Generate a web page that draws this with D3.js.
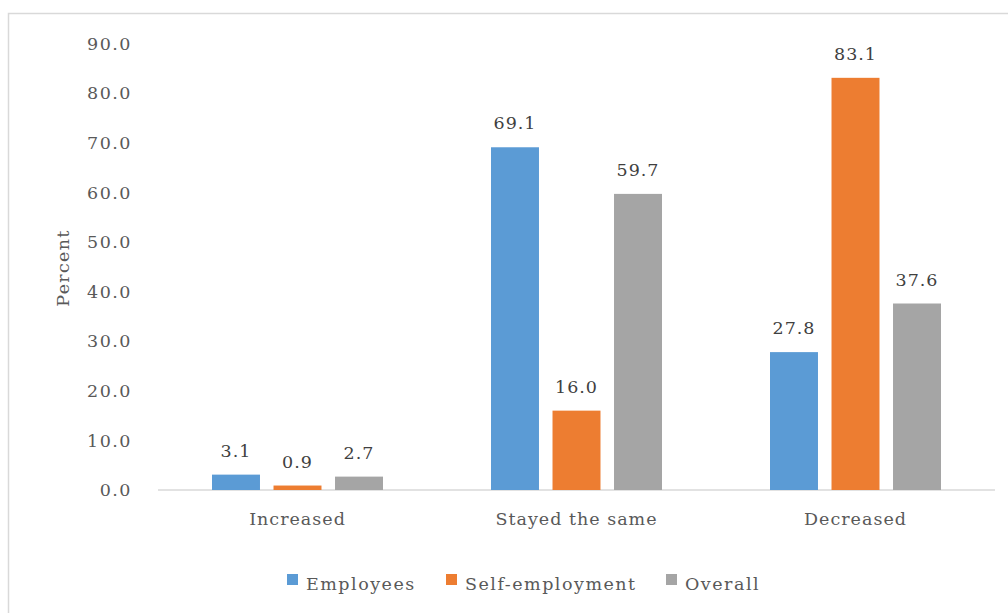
<!DOCTYPE html>
<html><head><meta charset="utf-8">
<script src="https://cdn.jsdelivr.net/npm/d3@7"></script>
<style>body{margin:0;background:#fff}svg{display:block}</style>
</head><body>
<svg id="c" width="1008" height="613"></svg>
<script>
const categories = ["Increased", "Stayed the same", "Decreased"];
const seriesNames = ["Employees", "Self-employment", "Overall"];
const employees = [3.1, 69.1, 27.8];
const selfEmployment = [0.9, 16.0, 83.1];
const overall = [2.7, 59.7, 37.6];
const yTicks = [0, 10, 20, 30, 40, 50, 60, 70, 80, 90];
const colors = ["#5b9bd5", "#ed7d31", "#a5a5a5"];
const series = [employees, selfEmployment, overall];

const svg = d3.select("#c");
const font = "'DejaVu Serif', serif";
const fs = 17.5, ls = "1px";
svg.append("rect").attr("x", 8.5).attr("y", 13.5).attr("width", 1010).attr("height", 620)
  .attr("fill", "#fff").attr("stroke", "#d9d9d9").attr("stroke-width", 1.5);

const x0 = d3.scaleBand().domain(categories).range([158, 995]);
const x1 = d3.scaleBand().domain(seriesNames).range([0, 171]).paddingInner(0.22);
const y = d3.scaleLinear().domain([0, 90]).range([490, 43.6]);

const yAxis = svg.append("g").attr("transform", "translate(158,0)")
  .call(d3.axisLeft(y).tickValues(yTicks).tickFormat(d3.format(".1f")).tickSize(0).tickPadding(26));
yAxis.select(".domain").remove();
yAxis.selectAll("text").attr("font-family", font).attr("font-size", fs).attr("letter-spacing", "1.5px").attr("fill", "#595959");

svg.append("line").attr("x1", 158).attr("x2", 995).attr("y1", y(0)).attr("y2", y(0))
  .attr("stroke", "#d9d9d9").attr("stroke-width", 1.5);

const offset = (x0.bandwidth() - 171) / 2;
series.forEach((vals, si) => {
  const g = svg.append("g");
  categories.forEach((c, ci) => {
    const bx = x0(c) + offset + x1(seriesNames[si]);
    g.append("rect").attr("x", bx).attr("width", x1.bandwidth())
      .attr("y", y(vals[ci])).attr("height", y(0) - y(vals[ci])).attr("fill", colors[si]);
    g.append("text").attr("x", bx + x1.bandwidth() / 2).attr("y", y(vals[ci]) - 18)
      .attr("text-anchor", "middle").attr("font-family", font).attr("font-size", fs)
      .attr("letter-spacing", ls).attr("fill", "#404040").text(vals[ci].toFixed(1));
  });
});

const xAxis = svg.append("g").attr("transform", `translate(0,${y(0)})`)
  .call(d3.axisBottom(x0).tickSize(0).tickPadding(23));
xAxis.select(".domain").remove();
xAxis.selectAll("text").attr("font-family", font).attr("font-size", fs).attr("letter-spacing", ls).attr("fill", "#595959");

svg.append("text").attr("transform", "translate(69,268) rotate(-90)").attr("text-anchor", "middle")
  .attr("font-family", font).attr("font-size", fs).attr("letter-spacing", "1.3px").attr("fill", "#595959").text("Percent");

const legendX = [287, 446, 666];
seriesNames.forEach((n, i) => {
  svg.append("rect").attr("x", legendX[i]).attr("y", 574).attr("width", 11).attr("height", 11).attr("fill", colors[i]);
  svg.append("text").attr("x", legendX[i] + 19).attr("y", 590).attr("font-family", font)
    .attr("font-size", fs).attr("letter-spacing", "1.5px").attr("fill", "#595959").text(n);
});
</script>
</body></html>
